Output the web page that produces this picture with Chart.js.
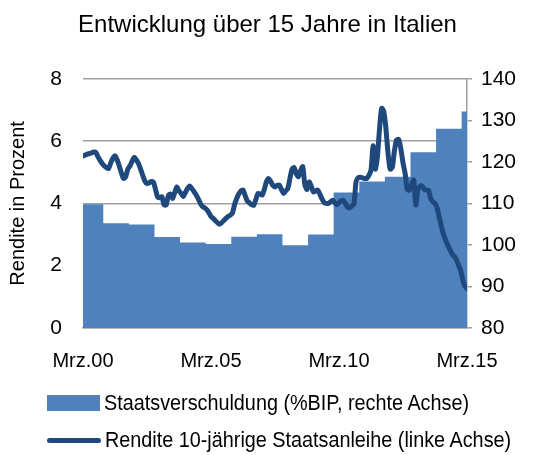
<!DOCTYPE html>
<html>
<head>
<meta charset="utf-8">
<script src="https://cdn.jsdelivr.net/npm/chart.js@4.4.1/dist/chart.umd.min.js"></script>
<style>
html, body { margin: 0; padding: 0; background: #ffffff; }
#wrap { position: relative; width: 535px; height: 455px; overflow: hidden; }
#c { position: absolute; left: 0; top: 0; }
.leg { position: absolute; left: 47px; white-space: nowrap; display: flex; align-items: center; color: #000; }
.sw { display: inline-block; margin-right: 4px; }
.txt { display: inline-block; transform: scaleX(0.9); transform-origin: left center; }
</style>
</head>
<body>
<div id="wrap">
  <canvas id="c" width="535" height="455"></canvas>
  <div class="leg" id="leg1"></div>
  <div class="leg" id="leg2"></div>
</div>
<script>
// ---------- data ----------
const chartTitle = 'Entwicklung über 15 Jahre in Italien';
const leftAxisTitle = 'Rendite in Prozent';
const seriesNames = ['Staatsverschuldung (%BIP, rechte Achse)', 'Rendite 10-jährige Staatsanleihe (linke Achse)'];
const tickLabels = ['Mrz.00', 'Mrz.05', 'Mrz.10', 'Mrz.15'];

// government debt (% of GDP), one value per calendar year
const debtYears = [2000, 2001, 2002, 2003, 2004, 2005, 2006, 2007, 2008, 2009, 2010, 2011, 2012, 2013, 2014, 2015];
const debtValues = [109.8, 105.2, 104.9, 101.9, 100.6, 100.2, 102.0, 102.6, 99.9, 102.5, 112.6, 115.3, 116.4, 122.3, 128.0, 132.1];

// 10-year government bond yield (%), monthly from Mrz.00 to Mrz.15
const yieldValues = [
  5.52, 5.55, 5.58, 5.60, 5.62, 5.65, 5.64, 5.50, 5.38, 5.28, 5.20, 5.15,
  5.12, 5.30, 5.45, 5.53, 5.40, 5.20, 4.98, 4.80, 4.85, 5.10, 5.20, 5.35,
  5.48, 5.40, 5.28, 5.10, 4.90, 4.72, 4.64, 4.66, 4.70, 4.68, 4.45, 4.20,
  4.18, 4.21, 3.95, 3.95, 4.25, 4.30, 4.16, 4.35, 4.53, 4.40, 4.32, 4.22,
  4.35, 4.48, 4.56, 4.48, 4.38, 4.28, 4.15, 4.00, 3.90, 3.86, 3.80, 3.70,
  3.58, 3.52, 3.45, 3.38, 3.33, 3.38, 3.45, 3.52, 3.58, 3.62, 3.68, 3.95,
  4.15, 4.30, 4.40, 4.43, 4.25, 4.08, 4.02, 3.96, 3.94, 4.12, 4.32, 4.30,
  4.27, 4.45, 4.70, 4.80, 4.70, 4.58, 4.53, 4.58, 4.59, 4.45, 4.32, 4.40,
  4.48, 4.80, 5.10, 5.15, 4.95, 4.86, 5.05, 5.18, 4.60, 4.45, 4.69, 4.55,
  4.37, 4.40, 4.43, 4.30, 4.15, 4.03, 4.00, 4.00, 4.05, 4.10, 4.02, 3.96,
  4.02, 4.08, 4.10, 4.00, 3.88, 3.86, 3.92, 3.98, 4.70, 4.82, 4.84, 4.82,
  4.80, 4.80, 4.90, 5.07, 5.85, 5.10, 5.50, 6.40, 7.05, 6.95, 6.40, 5.60,
  5.10, 5.16, 5.70, 6.04, 6.05, 5.75, 5.30, 4.96, 4.45, 4.43, 4.60, 4.75,
  3.95, 4.45, 4.55, 4.55, 4.45, 4.43, 4.42, 4.15, 4.05, 4.00, 3.85, 3.55,
  3.25, 3.00, 2.82, 2.65, 2.52, 2.38, 2.30, 2.20, 2.02, 1.85, 1.55, 1.35,
  1.26
];

// ---------- styling ----------
const FONT = "'Liberation Sans', Arial, sans-serif";
const BAR_COLOR = '#4F81BD';
const LINE_COLOR = '#1F497D';
const GRID_COLOR = '#A0A0A0';

Chart.defaults.font.family = FONT;
Chart.defaults.color = '#000000';

// month index 0 = März 2000; a calendar year starts in January
const lastMonth = yieldValues.length - 1;
const yearStart = (y) => Math.max(0, (y - 2000) * 12 - 2.5);

const debtPoints = debtYears.map((y, i) => ({ x: yearStart(y), y: debtValues[i] }));
debtPoints.push({ x: lastMonth, y: debtValues[debtValues.length - 1] });
const yieldPoints = yieldValues.map((v, i) => ({ x: i, y: v }));

new Chart(document.getElementById('c'), {
  type: 'line',
  data: {
    datasets: [
      {
        label: seriesNames[1],
        data: yieldPoints,
        yAxisID: 'y',
        borderColor: LINE_COLOR,
        borderWidth: 5,
        pointRadius: 0,
        tension: 0.25,
        borderCapStyle: 'round',
        borderJoinStyle: 'round',
        fill: false,
        order: 0
      },
      {
        label: seriesNames[0],
        data: debtPoints,
        yAxisID: 'y1',
        stepped: true,
        borderWidth: 0,
        borderColor: BAR_COLOR,
        backgroundColor: BAR_COLOR,
        pointRadius: 0,
        fill: 'start',
        order: 1
      }
    ]
  },
  options: {
    responsive: false,
    animation: false,
    events: [],
    layout: { padding: { left: 0, right: 0, top: 0, bottom: 87 } },
    plugins: {
      legend: { display: false },
      tooltip: { enabled: false },
      title: {
        display: true,
        text: chartTitle,
        color: '#000',
        font: { size: 24, weight: 'normal', family: FONT },
        padding: { top: 11, bottom: 39 }
      }
    },
    scales: {
      x: {
        type: 'linear',
        min: 0,
        max: lastMonth,
        afterBuildTicks: (s) => { s.ticks = tickLabels.map((_, i) => ({ value: i * 60 })); },
        afterFit: (s) => { s.height = 40; },
        ticks: {
          autoSkip: false,
          maxRotation: 0,
          padding: 13,
          font: { size: 20 },
          color: '#000',
          callback: (v) => tickLabels[Math.round(v / 60)]
        },
        grid: { display: false },
        border: { display: true, color: GRID_COLOR, width: 1.5 }
      },
      y: {
        position: 'left',
        min: 0,
        max: 8,
        afterFit: (s) => { s.width = 83; },
        ticks: { stepSize: 2, padding: 21, font: { size: 21 }, color: '#000' },
        grid: { color: GRID_COLOR, lineWidth: 1.5, drawTicks: false },
        border: { display: false },
        title: {
          display: true,
          text: leftAxisTitle,
          color: '#000',
          font: { size: 20 },
          padding: { top: 6, bottom: 0 }
        }
      },
      y1: {
        position: 'right',
        min: 80,
        max: 140,
        afterFit: (s) => { s.width = 68; },
        ticks: { stepSize: 10, padding: 9, font: { size: 21 }, color: '#000' },
        grid: { drawOnChartArea: false, color: GRID_COLOR, lineWidth: 1.5, tickLength: 5 },
        border: { display: true, color: GRID_COLOR, width: 1.5 }
      }
    }
  }
});

// ---------- legend (HTML text) ----------
function legendItem(el, top, swatchStyle, text) {
  el.style.fontFamily = FONT;
  el.style.fontSize = '22px';
  el.style.top = top + 'px';
  const sw = document.createElement('span');
  sw.className = 'sw';
  sw.setAttribute('style', swatchStyle);
  const t = document.createElement('span');
  t.className = 'txt';
  t.textContent = text;
  el.appendChild(sw);
  el.appendChild(t);
}
legendItem(document.getElementById('leg1'), 390,
  'width:53px;height:16px;background:' + BAR_COLOR, seriesNames[0]);
legendItem(document.getElementById('leg2'), 427,
  'width:54px;height:5px;border-radius:3px;background:' + LINE_COLOR, seriesNames[1]);
</script>
</body>
</html>
